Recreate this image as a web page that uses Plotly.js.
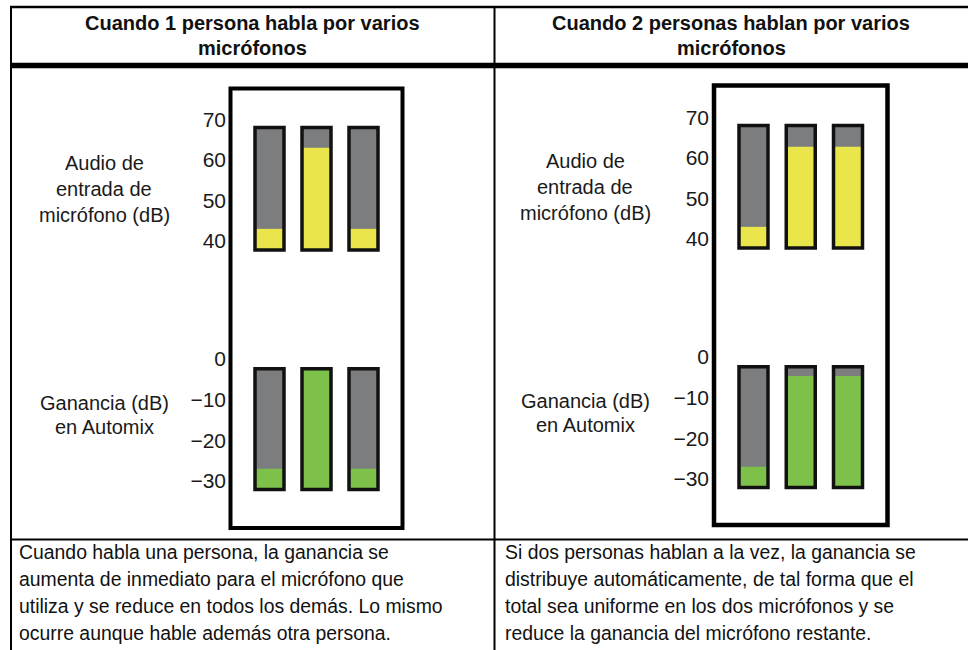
<!DOCTYPE html>
<html>
<head>
<meta charset="utf-8">
<script src="https://cdn.plot.ly/plotly-3.0.1.min.js"></script>
<style>html,body{margin:0;padding:0;background:#fff;}#chart{width:968px;height:650px;}</style>
</head>
<body>
<div id="chart"></div>
<script>
// ---------- DATA ----------
const mics = ['Mic 1', 'Mic 2', 'Mic 3'];
const inputTicks = [40, 50, 60, 70];
const gainTicks = [0, -10, -20, -30];
const inputMeterMin = 37.8;
const inputMeterMax = 68;
const gainMeterMin = -32.1;
const gainMeterMax = -2.5;
// Case 1: one person speaking
const inputOne = [43, 63, 43];
const gainOne = [-27, -2.5, -27];
// Case 2: two persons speaking
const inputTwo = [43, 62.8, 62.8];
const gainTwo = [-27, -4.8, -4.8];

const headerOne = ['Cuando 1 persona habla por varios', 'micrófonos'];
const headerTwo = ['Cuando 2 personas hablan por varios', 'micrófonos'];
const inputLabel = ['Audio de', 'entrada de', 'micrófono (dB)'];
const gainLabel = ['Ganancia (dB)', 'en Automix'];
const textOne = ['Cuando habla una persona, la ganancia se',
  'aumenta de inmediato para el micrófono que',
  'utiliza y se reduce en todos los demás. Lo mismo',
  'ocurre aunque hable además otra persona.'];
const textTwo = ['Si dos personas hablan a la vez, la ganancia se',
  'distribuye automáticamente, de tal forma que el',
  'total sea uniforme en los dos micrófonos y se',
  'reduce la ganancia del micrófono restante.'];

// ---------- LAYOUT ----------
const W = 968, H = 650;
const fx = p => p / W;
const fy = p => 1 - p / H;
const FONT = 'Liberation Sans, Arial, Helvetica, sans-serif';
const GREY = '#7c7d7f', YELLOW = '#e9e54b', GREEN = '#7dc14a';

const panels = [
  {inputs: inputOne, gains: gainOne, xDom: [233, 400], xc: [269.5, 363.5],
   inDom: [95, 262], inCal: [[70, 119.5], [40, 241]],
   gDom: [335, 505], gCal: [[0, 358.5], [-30, 481]],
   frame: [230.5, 88.5, 402.5, 528], lineW: 4, labelX: 104, inLabelY: [163, 189, 215], gLabelY: [403, 427],
   standoff: 6},
  {inputs: inputTwo, gains: gainTwo, xDom: [716, 885], xc: [753.5, 848],
   inDom: [93, 260], inCal: [[70, 117.5], [40, 239]],
   gDom: [333, 503], gCal: [[0, 356.5], [-30, 479]],
   frame: [714, 85.5, 887.5, 525], lineW: 4.5, labelX: 585, inLabelY: [161, 187, 213], gLabelY: [401, 425],
   standoff: 6}
];

function yRange(dom, cal) {
  const [[v1, p1], [v2, p2]] = cal;
  const s = (v1 - v2) / (p2 - p1);
  const v = p => v1 - (p - p1) * s;
  return [v(dom[1]), v(dom[0])];
}
function xRange(dom, xc) {
  const s = (mics.length - 1) / (xc[1] - xc[0]);
  return {range: [(dom[0] - xc[0]) * s, (dom[1] - xc[0]) * s], s: s};
}

const traces = [];
const layout = {
  width: W, height: H, margin: {l: 0, r: 0, t: 0, b: 0},
  paper_bgcolor: '#fff', plot_bgcolor: 'rgba(0,0,0,0)',
  showlegend: false, barmode: 'overlay', hovermode: false,
  font: {family: FONT, color: '#1a1a1a'},
  shapes: [], annotations: []
};

let axisN = 1;
panels.forEach(pn => {
  const xr = xRange(pn.xDom, pn.xc);
  const barW = 29 * xr.s;
  const meters = [
    {levels: pn.inputs, min: inputMeterMin, max: inputMeterMax, color: YELLOW, dom: pn.inDom, cal: pn.inCal, ticks: inputTicks},
    {levels: pn.gains, min: gainMeterMin, max: gainMeterMax, color: GREEN, dom: pn.gDom, cal: pn.gCal, ticks: gainTicks}
  ];
  meters.forEach(m => {
    const xa = axisN === 1 ? 'x' : 'x' + axisN;
    const ya = axisN === 1 ? 'y' : 'y' + axisN;
    const common = {type: 'bar', x: mics, base: m.min, width: barW, xaxis: xa, yaxis: ya, hoverinfo: 'skip'};
    traces.push(Object.assign({}, common, {y: mics.map(() => m.max - m.min), marker: {color: GREY, opacity: 1, line: {width: 0}}}));
    traces.push(Object.assign({}, common, {y: m.levels.map(v => v - m.min), marker: {color: m.color, opacity: 1, line: {width: 0}}}));
    traces.push(Object.assign({}, common, {y: mics.map(() => m.max - m.min), marker: {color: 'rgba(0,0,0,0)', opacity: 1, line: {width: 3.5, color: '#111'}}}));
    const xKey = axisN === 1 ? 'xaxis' : 'xaxis' + axisN;
    const yKey = axisN === 1 ? 'yaxis' : 'yaxis' + axisN;
    layout[xKey] = {domain: [fx(pn.xDom[0]), fx(pn.xDom[1])], range: xr.range, type: 'category',
      showgrid: false, zeroline: false, showline: false, showticklabels: false, ticks: '', fixedrange: true,
      anchor: ya};
    layout[yKey] = {domain: [fy(m.dom[1]), fy(m.dom[0])], range: yRange(m.dom, m.cal),
      tickmode: 'array', tickvals: m.ticks, ticks: '', ticklabelstandoff: pn.standoff,
      showgrid: false, zeroline: false, showline: false, fixedrange: true,
      tickfont: {family: FONT, size: 21, color: '#1a1a1a'}, anchor: xa};
    axisN++;
  });
  // frame
  const [x0, y0, x1, y1] = pn.frame;
  layout.shapes.push({type: 'rect', xref: 'paper', yref: 'paper', x0: fx(x0), x1: fx(x1), y0: fy(y1), y1: fy(y0),
    line: {color: '#000', width: pn.lineW}, fillcolor: 'rgba(0,0,0,0)'});
  // side labels
  inputLabel.forEach((t, i) => layout.annotations.push({text: t, xref: 'paper', yref: 'paper', x: fx(pn.labelX), y: fy(pn.inLabelY[i]),
    xanchor: 'center', yanchor: 'middle', showarrow: false, font: {family: FONT, size: 20, color: '#1a1a1a'}}));
  gainLabel.forEach((t, i) => layout.annotations.push({text: t, xref: 'paper', yref: 'paper', x: fx(pn.labelX), y: fy(pn.gLabelY[i]),
    xanchor: 'center', yanchor: 'middle', showarrow: false, font: {family: FONT, size: 20, color: '#1a1a1a'}}));
});

// table lines
const line = (x0, y0, x1, y1, w) => ({type: 'line', xref: 'paper', yref: 'paper', x0: fx(x0), x1: fx(x1), y0: fy(y0), y1: fy(y1), line: {color: '#000', width: w}});
layout.shapes.push(line(10, 7, 968, 7, 2.5));
layout.shapes.push(line(11, 6, 11, 650, 2));
layout.shapes.push(line(494.5, 7, 494.5, 650, 2));
layout.shapes.push(line(11, 65.5, 968, 65.5, 5.5));
layout.shapes.push(line(11, 539.5, 968, 539.5, 2));

// headers
[[headerOne, 252.5], [headerTwo, 731]].forEach(([lines, cx]) => {
  lines.forEach((t, i) => layout.annotations.push({text: '<b>' + t + '</b>', xref: 'paper', yref: 'paper', x: fx(cx), y: fy(23 + i * 25),
    xanchor: 'center', yanchor: 'middle', showarrow: false, font: {family: FONT, size: 20, color: '#111'}}));
});
// body text
[[textOne, 17], [textTwo, 503]].forEach(([lines, lx]) => {
  lines.forEach((t, i) => layout.annotations.push({text: t, xref: 'paper', yref: 'paper', x: fx(lx), y: fy(552 + i * 27),
    xanchor: 'left', yanchor: 'middle', showarrow: false, font: {family: FONT, size: 19.4, color: '#111'}}));
});

Plotly.newPlot('chart', traces, layout, {staticPlot: true, displayModeBar: false});
</script>
</body>
</html>
